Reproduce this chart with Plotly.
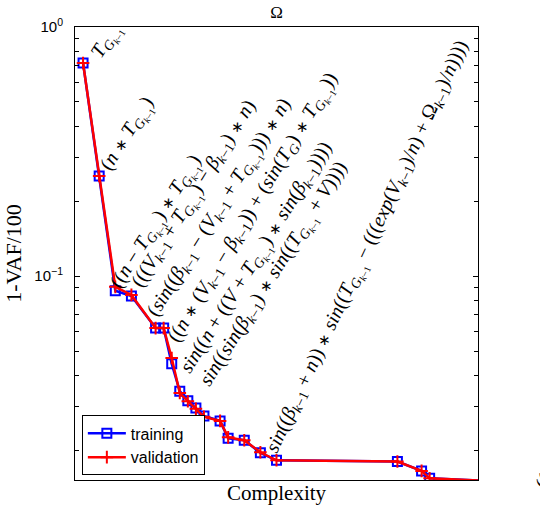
import numpy as np
import plotly.graph_objects as go

# Pareto front: model complexity vs. error (1 - VAF/100)
complexity = [1, 3, 5, 7, 10, 11, 12, 13, 14, 15, 16, 18, 19, 21, 23, 25, 40, 43, 44, 57]
train_err = [0.717, 0.252, 0.0873, 0.0831, 0.0618, 0.0618, 0.0444, 0.0345, 0.0316, 0.0295,
             0.0274, 0.0262, 0.0223, 0.0219, 0.0195, 0.0182, 0.0180, 0.0165, 0.0154, 0.01475]
valid_err = [0.717, 0.252, 0.0905, 0.0840, 0.0618, 0.0618, 0.0469, 0.0339, 0.0314, 0.0293,
             0.0272, 0.0262, 0.0225, 0.0219, 0.0196, 0.0182, 0.0180, 0.0165, 0.0154, 0.01475]

x_range = [0, 50]
y_range = [0.01517, 1.0]
y_tick_vals = [0.1, 1.0]
y_tick_text = ["10<sup>−1</sup>", "10<sup>0</sup>"]

K = "<sub><i>k</i>−1</sub>"
TG = "<i>T</i><sub><i>G</i><sub><i>k</i>−1</sub></sub>"
MUL = "<span style='font-size:75%'>∗</span>"

# (point index, expression, pixel offset of text start from the point, text angle)
labels = [
    (0, f"{TG}", 10, -4, -58),
    (1, f"(<i>n</i> {MUL} {TG})", 3, -5, -58),
    (2, f"((<i>n</i> − {TG}) {MUL} {TG})", -3, -1, -58),
    (3, f"(((<i>V</i>{K} + {TG}) − <i>β</i>{K}) {MUL} <i>n</i>)", 2, -8, -58),
    (4, f"(<i>sin</i>((<i>β</i>{K} − (<i>V</i>{K} + {TG}))) {MUL} <i>n</i>)", -6, -11, -58),
    (5, f"((<i>n</i> {MUL} (<i>V</i>{K} − <i>β</i>{K})) + (<i>sin</i>(<i>T</i><sub><i>G</i></sub>) {MUL} {TG}))", 6, 15, -59),
    (6, f"<i>sin</i>((<i>n</i> + ((<i>V</i> + {TG}) {MUL} <i>sin</i>(<i>β</i>{K}))))", 10, 10, -58),
    (7, f"<i>sin</i>((<i>sin</i>(<i>β</i>{K}) {MUL} <i>sin</i>(({TG} + <i>V</i>))))", 22, -4, -58),
    (15, f"<i>sin</i>((<i>β</i>{K} + <i>n</i>)) {MUL} <i>sin</i>(({TG} − (((<i>exp</i>(<i>V</i>{K})/<i>n</i>) + Ω{K})/<i>n</i>))))", -9, -8, -65),
    (19, f"((((<i>n</i> {MUL} <i>V</i>{K}) − <i>β</i>{K}) {MUL} <i>sin</i>({TG})) + Ω{K})", 3, 6, -64),
]

SERIF = "Liberation Serif"
SANS = "Liberation Sans"

fig = go.Figure()
fig.add_trace(go.Scatter(
    x=complexity, y=train_err, name="training", mode="lines+markers",
    line=dict(color="#0000ff", width=2.5),
    marker=dict(symbol="square-open", size=9, color="#0000ff", line=dict(width=2, color="#0000ff")),
))
fig.add_trace(go.Scatter(
    x=complexity, y=valid_err, name="validation", mode="lines+markers",
    line=dict(color="#ff0000", width=2.5),
    marker=dict(symbol="cross-thin", size=9, color="#ff0000", line=dict(width=2, color="#ff0000")),
))

ylog_lo, ylog_hi = np.log10(y_range[0]), np.log10(y_range[1])
for idx, text, dx, dy, ang in labels:
    xv = complexity[idx]
    yl = np.log10(train_err[idx])
    inside = x_range[0] <= xv <= x_range[1] and ylog_lo <= yl <= ylog_hi
    if inside:
        pos = dict(x=xv, y=yl, xref="x", yref="y")
    else:
        pos = dict(x=(xv - x_range[0]) / (x_range[1] - x_range[0]),
                   y=(yl - ylog_lo) / (ylog_hi - ylog_lo), xref="paper", yref="paper")
    fig.add_annotation(
        **pos, text=text, showarrow=False, textangle=ang,
        xanchor="left", yanchor="bottom", xshift=dx - 10, yshift=-(dy + 8),
        font=dict(family=SERIF, size=20, color="black"),
    )

minor_vals = [m * 10.0 ** e for e in (-2, -1) for m in range(2, 10)]

fig.update_layout(
    width=540, height=513,
    margin=dict(l=75, r=62, t=27, b=33),
    paper_bgcolor="white", plot_bgcolor="white",
    title=dict(text="Ω", x=0.5, xref="paper", xanchor="center", y=1 - 12 / 513, yanchor="middle",
               font=dict(family=SERIF, size=17, color="black")),
    showlegend=True,
    legend=dict(x=0.017, y=0.01, xanchor="left", yanchor="bottom",
                bordercolor="black", borderwidth=1, bgcolor="white",
                font=dict(family=SANS, size=16, color="black"), tracegroupgap=0, itemwidth=38),
    xaxis=dict(range=x_range, showline=True, linecolor="black", linewidth=1, mirror=True,
               ticks="", showticklabels=False, showgrid=False, zeroline=False,
               title=dict(text="Complexity", standoff=5, font=dict(family=SERIF, size=21, color="black"))),
    yaxis=dict(type="log", range=[ylog_lo, ylog_hi], showline=True, linecolor="black", linewidth=1,
               mirror="ticks", ticks="inside", ticklen=5, tickcolor="black",
               tickvals=y_tick_vals, ticktext=y_tick_text, ticklabelstandoff=8,
               tickfont=dict(family=SANS, size=15, color="black"),
               minor=dict(tickvals=minor_vals, ticks="inside", ticklen=4, tickcolor="black", showgrid=False),
               showgrid=False, zeroline=False,
               title=dict(text="1-VAF/100", standoff=6, font=dict(family=SERIF, size=22, color="black"))),
)

fig.write_html("out.html")
